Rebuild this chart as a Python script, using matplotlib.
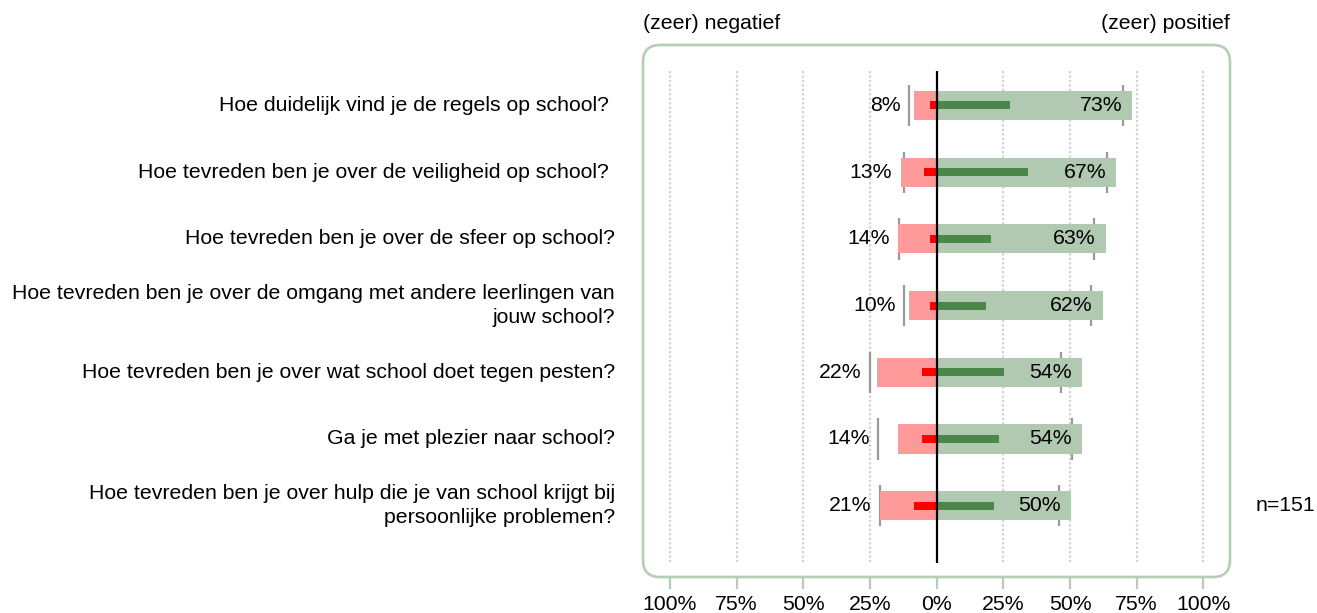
import matplotlib
matplotlib.use("Agg")
import matplotlib.pyplot as plt
from matplotlib.patches import FancyBboxPatch

plt.rcParams['font.family'] = ['Liberation Sans', 'DejaVu Sans']

questions = [
    "Hoe duidelijk vind je de regels op school? ",
    "Hoe tevreden ben je over de veiligheid op school? ",
    "Hoe tevreden ben je over de sfeer op school?",
    "Hoe tevreden ben je over de omgang met andere leerlingen van\njouw school?",
    "Hoe tevreden ben je over wat school doet tegen pesten?",
    "Ga je met plezier naar school?",
    "Hoe tevreden ben je over hulp die je van school krijgt bij\npersoonlijke problemen?",
]
neg_total = [8.4, 13.4, 14.4, 10.4, 22.4, 14.4, 21.4]
neg_strong = [2.5, 4.6, 2.5, 2.5, 5.4, 5.4, 8.5]
pos_total = [73.4, 67.4, 63.4, 62.4, 54.4, 54.4, 50.3]
pos_strong = [27.4, 34.4, 20.5, 18.4, 25.4, 23.4, 21.5]
bench_neg = [10.3, 12.2, 14.1, 12.2, 25.1, 22.0, 21.1]
bench_pos = [69.8, 63.9, 58.9, 57.8, 46.8, 50.8, 45.9]
ticks = [-100, -75, -50, -25, 0, 25, 50, 75, 100]
tick_labels = ["100%", "75%", "50%", "25%", "0%", "25%", "50%", "75%", "100%"]
n_text = "n=151"

LIGHT_RED = "#ff9a9a"
DARK_RED = "#ff0000"
LIGHT_GREEN = "#b0c9b0"
DARK_GREEN = "#4b864b"
BORDER = "#b4cfb4"
GREY = "#999999"
FS = 15.3

W, H = 1317, 613
fig = plt.figure(figsize=(W / 100, H / 100), dpi=100)
ax = fig.add_axes([643 / W, (613 - 577) / H, 587 / W, 532 / H])
ax.set_xlim(-110.1, 110.0)
ax.set_ylim(7.069, -0.907)
for s in ax.spines.values():
    s.set_visible(False)
ax.set_yticks([])
ax.set_xticks(ticks)
ax.set_xticklabels(tick_labels, fontsize=FS)
ax.tick_params(axis='x', direction='out', length=8.6, width=1.6, color=BORDER, pad=4)

# rounded frame
rx = 17 / 587
asp = (17 / 532) / rx
frame = FancyBboxPatch((0, 0), 1, 1, boxstyle=f"round,pad=0,rounding_size={rx}",
                       mutation_aspect=asp, transform=ax.transAxes, fill=False,
                       edgecolor=BORDER, linewidth=1.9, clip_on=False, zorder=0)
ax.add_patch(frame)

# grid
ax.vlines([t for t in ticks if t != 0], -0.517, 6.86, colors="#d2d2d2",
          linestyles=(0, (1, 1)), linewidth=1.6, zorder=1)
ax.vlines([0], -0.517, 6.86, colors="black", linewidth=1.6, zorder=6)

ys = list(range(len(questions)))
# benchmark markers
ax.vlines([-v for v in bench_neg], [y - 0.31 for y in ys], [y + 0.31 for y in ys],
          colors=GREY, linewidth=1.6, zorder=2)
ax.vlines(bench_pos, [y - 0.31 for y in ys], [y + 0.31 for y in ys],
          colors=GREY, linewidth=1.6, zorder=2)

ax.barh(ys, [-v for v in neg_total], height=0.435, color=LIGHT_RED, zorder=3)
ax.barh(ys, pos_total, height=0.435, color=LIGHT_GREEN, zorder=3)
ax.barh(ys, [-v for v in neg_strong], height=0.12, color=DARK_RED, zorder=4)
ax.barh(ys, pos_strong, height=0.12, color=DARK_GREEN, zorder=4)

for y, q, nt, bn, pt in zip(ys, questions, neg_total, bench_neg, pos_total):
    ax.text(-max(nt, bn) - 3.2, y, f"{int(nt)}%", ha='right', va='center',
            fontsize=FS, zorder=7)
    ax.text(pt - 3.8, y, f"{int(pt)}%", ha='right', va='center',
            fontsize=FS, zorder=7)
    ax.text(-0.0477, y, q, transform=ax.get_yaxis_transform(), ha='right',
            va='center', multialignment='right', fontsize=FS, linespacing=1.35)

ax.text(1.0443, ys[-1], n_text, transform=ax.get_yaxis_transform(), ha='left',
        va='center', fontsize=FS)
ax.text(0.0, 1.0395, "(zeer) negatief", transform=ax.transAxes, ha='left',
        va='center', fontsize=FS)
ax.text(1.0, 1.0395, "(zeer) positief", transform=ax.transAxes, ha='right',
        va='center', fontsize=FS)

fig.savefig("out.png", dpi=100)
